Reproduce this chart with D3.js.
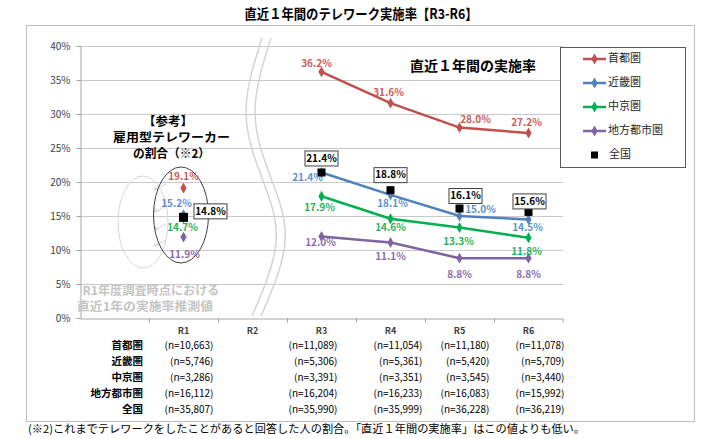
<!DOCTYPE html>
<html>
<head>
<meta charset="utf-8">
<script src="https://cdn.jsdelivr.net/npm/d3@7"></script>
<style>
  body { margin: 0; background: #fff; }
  text { font-family: "Noto Sans CJK JP", "Noto Sans", sans-serif; }
</style>
</head>
<body>
<div id="chart"></div>
<script>
// data
const axisCats = ["", "R1", "R2", "R3", "R4", "R5", "R6"];
const years = ["R3", "R4", "R5", "R6"];
const regionNames = ["首都圏", "近畿圏", "中京圏", "地方都市圏"];
const shutoken = [36.2, 31.6, 28.0, 27.2];
const kinki = [21.4, 18.1, 15.0, 14.5];
const chukyo = [17.9, 14.6, 13.3, 11.8];
const chiho = [12.0, 11.1, 8.8, 8.8];
const zenkoku = [21.4, 18.8, 16.1, 15.6];
const r1Regions = [19.1, 15.2, 14.7, 11.9];
const r1Zenkoku = 14.8;
const yTicks = [0, 5, 10, 15, 20, 25, 30, 35, 40];

const tableRows = ["首都圏", "近畿圏", "中京圏", "地方都市圏", "全国"];
const tableCols = ["R1", "R3", "R4", "R5", "R6"];
const nR1 = ["10,663", "5,746", "3,286", "16,112", "35,807"];
const nR3 = ["11,089", "5,306", "3,391", "16,204", "35,990"];
const nR4 = ["11,054", "5,361", "3,351", "16,233", "35,999"];
const nR5 = ["11,180", "5,420", "3,545", "16,083", "36,228"];
const nR6 = ["11,078", "5,709", "3,440", "15,992", "36,219"];

// styles / layout
const colors = ["#C0504D", "#4F81BD", "#00B050", "#8064A2"];
const labelColors = ["#D05A57", "#5B8FD0", "#1DB45A", "#8A6DB0"];
// label offsets from point [dx, dy], per series per year
const labelOff = [
  [[-5, -8], [-2, -10], [16, -7], [-2, -10]],
  [[-14, 6], [2, 9], [21, -6], [-1, 9]],
  [[-2, 12], [0, 10], [-1, 15], [-2, 15]],
  [[-1, 7], [0, 15], [0, 17], [0, 17]]
];
const boxOff = [[0, -14], [0, -15], [6, -12.5], [1, -10.5]];
const r1Off = [[0, -11], [-7, -10], [-1, 10], [1, 18]];
const colNudge = [30, 16, 32, 30, 36];
const rowY = [346, 362, 378, 394, 410];

const W = 712, H = 439;
const svg = d3.select("#chart").append("svg")
  .attr("width", W).attr("height", H);

// outer frame
svg.append("rect").attr("x", 26.5).attr("y", 25.5)
  .attr("width", 668).attr("height", 396)
  .attr("fill", "none").attr("stroke", "#bfbfbf");

svg.append("text").attr("x", 361).attr("y", 15)
  .attr("text-anchor", "middle").attr("dominant-baseline", "middle")
  .attr("font-size", 14).attr("font-weight", "bold")
  .attr("textLength", 233).attr("lengthAdjust", "spacingAndGlyphs")
  .text("直近１年間のテレワーク実施率【R3-R6】");

const x = d3.scaleBand().domain(axisCats).range([80, 563]);
const cx = c => x(c) + x.bandwidth() / 2;
const y = d3.scaleLinear().domain([0, 40]).range([318, 46]);

// gridlines
svg.append("g").selectAll("line").data(yTicks.slice(1)).join("line")
  .attr("x1", 80).attr("x2", 563)
  .attr("y1", d => Math.round(y(d)) + 0.5).attr("y2", d => Math.round(y(d)) + 0.5)
  .attr("stroke", "#c8c8c8");

// y axis
const yAxis = svg.append("g").attr("transform", "translate(80.5,0)")
  .call(d3.axisLeft(y).tickValues(yTicks).tickFormat(d => d + "%").tickSize(4));
yAxis.select(".domain").attr("stroke", "#a6a6a6");
yAxis.selectAll(".tick line").attr("stroke", "#a6a6a6");
yAxis.selectAll(".tick text").attr("font-size", 10).attr("fill", "#404040")
  .attr("x", -10).style("font-family", "'Noto Sans CJK JP', sans-serif");

// x axis
const xAxis = svg.append("g").attr("transform", "translate(0,318.5)")
  .call(d3.axisBottom(x).tickSize(0).tickFormat(""));
xAxis.select(".domain").attr("stroke", "#a6a6a6");
xAxis.selectAll(".tick").remove();
xAxis.selectAll("line.edge").data(axisCats.slice(1)).join("line")
  .attr("class", "edge")
  .attr("x1", d => Math.round(x(d)) + 0.5).attr("x2", d => Math.round(x(d)) + 0.5)
  .attr("y1", 0).attr("y2", 4).attr("stroke", "#a6a6a6");
xAxis.append("line").attr("x1", 563).attr("x2", 563).attr("y1", 0).attr("y2", 4)
  .attr("stroke", "#a6a6a6");
svg.append("g").selectAll("text").data(axisCats.slice(1)).join("text")
  .attr("x", d => cx(d)).attr("y", 332)
  .attr("text-anchor", "middle").attr("dominant-baseline", "middle")
  .attr("font-size", 9).attr("font-weight", "bold").attr("fill", "#404040")
  .text(d => d);

// wavy break marks
const wave = d3.line().curve(d3.curveNatural);
[0, 9].forEach(off => {
  svg.append("path")
    .attr("d", wave([[262 + off, 38], [246 + off, 112], [262 + off, 178], [276 + off, 242], [252 + off, 316]]))
    .attr("fill", "none").attr("stroke", "#d4d4d4").attr("stroke-width", 1.5);
});

// R1 reference annotation
svg.append("ellipse").attr("cx", 143).attr("cy", 222).attr("rx", 25).attr("ry", 46)
  .attr("fill", "none").attr("stroke", "#d6d6d6").attr("stroke-width", 1);
[190, 212, 230, 246].forEach(ay => {
  svg.append("path").attr("d", `M166,${ay - 6} L154,${ay} M154,${ay} l5,-1 M154,${ay} l2,-4`)
    .attr("fill", "none").attr("stroke", "#d6d6d6").attr("stroke-width", 1);
});
svg.append("ellipse").attr("cx", 181).attr("cy", 215).attr("rx", 27.5).attr("ry", 48)
  .attr("fill", "none").attr("stroke", "#404040").attr("stroke-width", 1);

[["【参考】", 168, 50], ["雇用型テレワーカー", 171.5, 117], ["の割合（※2）", 171.5, 77]].forEach(([t, tx, tl], i) => {
  svg.append("text").attr("x", tx).attr("y", 123 + i * 16)
    .attr("text-anchor", "middle").attr("dominant-baseline", "middle")
    .attr("font-size", 12).attr("font-weight", "bold").attr("fill", "#000")
    .attr("textLength", tl).attr("lengthAdjust", "spacingAndGlyphs")
    .text(t);
});
[["R1年度調査時点における", 151, 292, 137], ["直近1年の実施率推測値", 145, 308, 136]].forEach(([t, tx, ty, tl]) => {
  svg.append("text").attr("x", tx).attr("y", ty)
    .attr("text-anchor", "middle").attr("dominant-baseline", "middle")
    .attr("font-size", 12).attr("font-weight", "bold").attr("fill", "#c4c4c4")
    .attr("textLength", tl).attr("lengthAdjust", "spacingAndGlyphs")
    .text(t);
});

const diamond = d3.symbol().type(d3.symbolDiamond).size(34);
const series = [shutoken, kinki, chukyo, chiho];

// R1 points
r1Regions.forEach((v, i) => {
  svg.append("path").attr("d", diamond)
    .attr("transform", `translate(${cx("R1")},${y(v)})`).attr("fill", colors[i]);
});
svg.append("rect").attr("x", cx("R1") - 4.5).attr("y", y(r1Zenkoku) - 4.5)
  .attr("width", 9).attr("height", 9).attr("fill", "#000");
r1Regions.forEach((v, i) => {
  svg.append("text").attr("x", cx("R1") + r1Off[i][0]).attr("y", y(v) + r1Off[i][1])
    .attr("text-anchor", "middle").attr("dominant-baseline", "middle")
    .attr("font-size", 10).attr("font-weight", "bold").attr("fill", labelColors[i])
    .text(v.toFixed(1) + "%");
});

function valueBox(px, py, v) {
  const g = svg.append("g").attr("transform", `translate(${px},${py})`);
  g.append("rect").attr("x", -16.5).attr("y", -7.5).attr("width", 33).attr("height", 15)
    .attr("fill", "#fff").attr("stroke", "#404040").attr("stroke-width", 1);
  g.append("text").attr("text-anchor", "middle").attr("dominant-baseline", "middle")
    .attr("y", 0.5).attr("font-size", 10).attr("font-weight", "bold").attr("fill", "#000")
    .text(v.toFixed(1) + "%");
}
valueBox(cx("R1") + 27, y(r1Zenkoku) - 6, r1Zenkoku);

// R3-R6 lines
const line = d3.line().x((d, i) => cx(years[i])).y(d => y(d));
series.forEach((s, k) => {
  svg.append("path").datum(s).attr("d", line)
    .attr("fill", "none").attr("stroke", colors[k]).attr("stroke-width", 2.5);
  svg.append("g").selectAll("path").data(s).join("path")
    .attr("d", diamond)
    .attr("transform", (d, i) => `translate(${cx(years[i])},${y(d)})`)
    .attr("fill", colors[k]);
});
series.forEach((s, k) => {
  svg.append("g").selectAll("text").data(s).join("text")
    .attr("x", (d, i) => cx(years[i]) + labelOff[k][i][0])
    .attr("y", (d, i) => y(d) + labelOff[k][i][1])
    .attr("text-anchor", "middle").attr("dominant-baseline", "middle")
    .attr("font-size", 10).attr("font-weight", "bold").attr("fill", labelColors[k])
    .text(d => d.toFixed(1) + "%");
});
svg.append("g").selectAll("rect").data(zenkoku).join("rect")
  .attr("x", (d, i) => cx(years[i]) - 4).attr("y", d => y(d) - 4)
  .attr("width", 8).attr("height", 8).attr("fill", "#000");
zenkoku.forEach((v, i) => {
  valueBox(cx(years[i]) + boxOff[i][0], y(v) + boxOff[i][1], v);
});

svg.append("text").attr("x", 473).attr("y", 67)
  .attr("text-anchor", "middle").attr("dominant-baseline", "middle")
  .attr("font-size", 14).attr("font-weight", "bold").attr("fill", "#000")
  .text("直近１年間の実施率");

// legend
const legend = svg.append("g");
legend.append("rect").attr("x", 560.5).attr("y", 47.5).attr("width", 125).attr("height", 120)
  .attr("fill", "#fff").attr("stroke", "#595959").attr("stroke-width", 1);
regionNames.concat(["全国"]).forEach((name, i) => {
  const ly = 59 + i * 24;
  if (i < 4) {
    legend.append("line").attr("x1", 583).attr("x2", 606).attr("y1", ly).attr("y2", ly)
      .attr("stroke", colors[i]).attr("stroke-width", 2.5);
    legend.append("path").attr("d", diamond).attr("transform", `translate(594.5,${ly})`)
      .attr("fill", colors[i]);
  } else {
    legend.append("rect").attr("x", 591).attr("y", ly - 3.5).attr("width", 7).attr("height", 7)
      .attr("fill", "#000");
  }
  legend.append("text").attr("x", i < 4 ? 608 : 609).attr("y", ly)
    .attr("dominant-baseline", "middle").attr("font-size", 11).attr("fill", "#262626")
    .text(name);
});

// sample size table
const nCols = [nR1, nR3, nR4, nR5, nR6];
tableRows.forEach((r, i) => {
  svg.append("text").attr("x", 143).attr("y", rowY[i])
    .attr("text-anchor", "end").attr("dominant-baseline", "middle")
    .attr("font-size", 10.5).attr("font-weight", "bold").attr("fill", "#000")
    .text(r);
  nCols.forEach((col, j) => {
    svg.append("text").attr("x", cx(tableCols[j]) + colNudge[j]).attr("y", rowY[i])
      .attr("text-anchor", "end").attr("dominant-baseline", "middle")
      .attr("font-size", 10).attr("fill", "#000")
      .text("(n=" + col[i] + ")");
  });
});

svg.append("text").attr("x", 28).attr("y", 430)
  .attr("dominant-baseline", "middle").attr("font-size", 11).attr("fill", "#000")
  .attr("textLength", 557).attr("lengthAdjust", "spacingAndGlyphs")
  .text("(※2)これまでテレワークをしたことがあると回答した人の割合。「直近１年間の実施率」はこの値よりも低い。");
</script>
</body>
</html>
